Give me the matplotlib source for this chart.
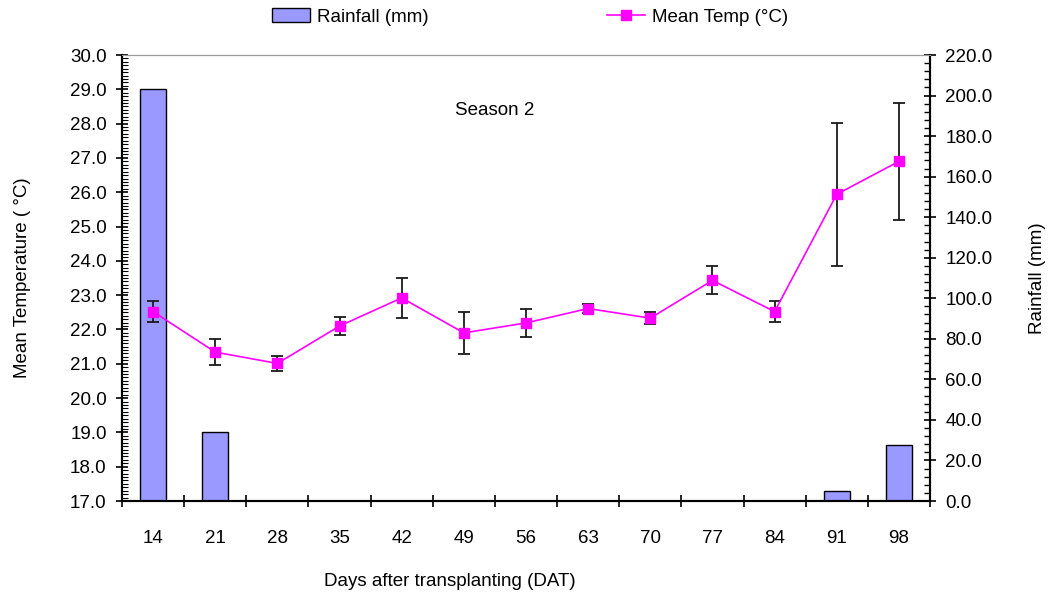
import matplotlib
matplotlib.use('Agg')
import matplotlib.pyplot as plt
import numpy as np
from matplotlib.ticker import MultipleLocator, FixedLocator, FormatStrFormatter
from matplotlib.patches import Patch
from matplotlib.lines import Line2D

plt.rcParams['font.family'] = ['Liberation Sans', 'DejaVu Sans']
plt.rcParams['font.size'] = 13.5

# Data (Season 2)
days = ['14', '21', '28', '35', '42', '49', '56', '63', '70', '77', '84', '91', '98']
rainfall = [203.0, 34.0, 0, 0, 0, 0, 0, 0, 0, 0, 0, 4.7, 27.6]
mean_temp = [22.52, 21.34, 21.01, 22.10, 22.92, 21.90, 22.19, 22.61, 22.33, 23.43, 22.52, 25.94, 26.90]
temp_err = [0.31, 0.37, 0.22, 0.27, 0.59, 0.61, 0.41, 0.14, 0.18, 0.41, 0.31, 2.08, 1.70]

x = np.arange(len(days))

fig = plt.figure(figsize=(10.51, 6.01), dpi=100)
ax = fig.add_axes([122/1051, 100/601, 808/1051, 446/601])
ax2 = ax.twinx()

# bars on rainfall axis (right), drawn behind the temperature line
ax2.bar(x, rainfall, width=0.42, color='#9999FF', edgecolor='black', linewidth=1.0)
ax2.set_ylim(0, 220)
ax2.yaxis.set_major_locator(MultipleLocator(20))
ax2.yaxis.set_minor_locator(MultipleLocator(4))
ax2.yaxis.set_major_formatter(FormatStrFormatter('%.1f'))
ax2.tick_params(axis='y', which='major', direction='inout', length=8, width=1.2, pad=7)
ax2.tick_params(axis='y', which='minor', direction='in', length=4, width=1.0)
ax2.set_ylabel('Rainfall (mm)', labelpad=26)

ax.set_zorder(ax2.get_zorder() + 1)
ax.patch.set_visible(False)

ax.errorbar(x, mean_temp, yerr=temp_err, color='#FF00FF', marker='s', markersize=6.5,
            linewidth=1.2, ecolor='#1a1a1a', elinewidth=1.3, capsize=4, capthick=1.3)
ax.set_ylim(17, 30)
ax.set_xlim(-0.5, len(days) - 0.5)
ax.yaxis.set_major_locator(MultipleLocator(1))
ax.yaxis.set_minor_locator(MultipleLocator(0.1))
ax.yaxis.set_major_formatter(FormatStrFormatter('%.1f'))
ax.tick_params(axis='y', which='major', direction='inout', length=8, width=1.2, pad=7)
ax.tick_params(axis='y', which='minor', direction='in', length=4, width=0.8)
ax.set_ylabel('Mean Temperature ( °C)', labelpad=28)

ax.set_xticks(x)
ax.set_xticklabels(days)
ax.xaxis.set_minor_locator(FixedLocator(np.arange(-0.5, len(days), 1)))
ax.tick_params(axis='x', which='major', length=0, pad=21)
ax.tick_params(axis='x', which='minor', direction='inout', length=9, width=1.2)
ax2.tick_params(axis='x', which='both', length=0)

for a in (ax, ax2):
    a.spines['top'].set_color('#999999')
    for s in ('left', 'right', 'bottom'):
        a.spines[s].set_linewidth(1.5)
        a.spines[s].set_color('black')

ax.text(5.5, 28.37, 'Season 2', ha='center', va='center')
fig.text(450/1051, 1 - 582/601, 'Days after transplanting (DAT)', ha='center', va='center')

bar_handle = Patch(facecolor='#9999FF', edgecolor='black', linewidth=1.0)
line_handle = Line2D([], [], color='#FF00FF', marker='s', markersize=6.5, linewidth=1.2)
fig.legend([bar_handle], ['Rainfall (mm)'], loc='center left',
           bbox_to_anchor=(272/1051, 1 - 17/601), frameon=False,
           borderpad=0, borderaxespad=0, handlelength=2.0, handletextpad=0.4)
fig.legend([line_handle], ['Mean Temp (°C)'], loc='center left',
           bbox_to_anchor=(607/1051, 1 - 17/601), frameon=False,
           borderpad=0, borderaxespad=0, handlelength=2.0, handletextpad=0.4)

fig.savefig('out.png', dpi=100)
